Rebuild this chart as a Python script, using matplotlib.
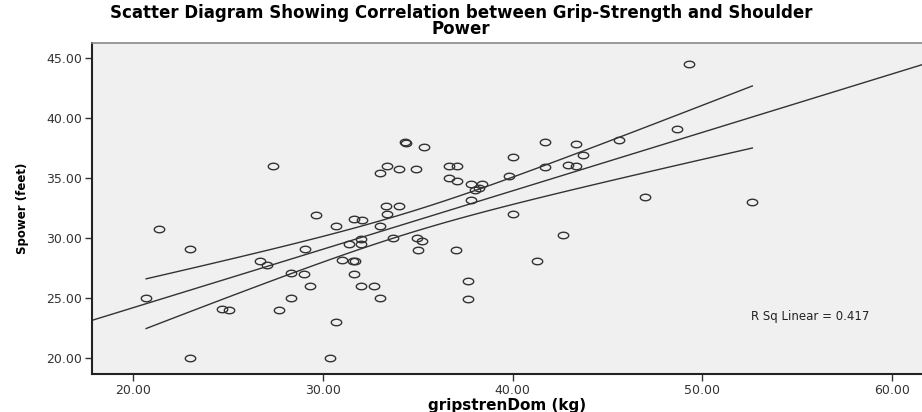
import numpy as np
import matplotlib
matplotlib.use("Agg")
from matplotlib import pyplot as plt
from matplotlib.path import Path

# grip strength (dominant hand, kg)
grip = [27.35, 29.65, 21.34, 23.0, 29.03, 26.68, 27.03, 28.31, 29.02, 29.33,
        20.67, 28.33, 24.68, 25.05, 27.66, 23.0, 34.3, 34.4, 35.34, 33.36,
        34.0, 34.9, 33.0, 33.34, 34.0, 31.63, 32.04, 33.36, 30.69, 33.0,
        32.0, 31.39, 32.0, 33.67, 34.94, 35.24, 34.99, 31.0, 31.6, 31.7,
        31.65, 32.0, 32.67, 33.0, 30.67, 30.35, 41.69, 40.0, 36.66, 37.05,
        36.66, 37.05, 37.79, 38.37, 38.0, 38.24, 39.79, 41.69, 37.8, 40.0,
        37.01, 41.3, 37.66, 37.66, 49.33, 48.65, 45.6, 43.34, 43.69, 42.9,
        43.37, 47.0, 52.65, 42.67]
# shoulder power (feet)
spower = [36.0, 31.92, 30.83, 29.14, 29.12, 28.14, 27.83, 27.16, 27.05, 26.05,
          25.05, 25.05, 24.13, 24.05, 24.05, 20.04, 38.0, 37.92, 37.63, 36.0,
          35.82, 35.82, 35.43, 32.73, 32.73, 31.64, 31.56, 32.03, 31.03, 31.03,
          29.95, 29.56, 29.53, 30.03, 30.03, 29.83, 29.06, 28.17, 28.11, 28.11,
          27.05, 26.05, 26.05, 25.05, 23.05, 20.07, 38.01, 36.82, 36.0, 36.0,
          35.0, 34.82, 34.54, 34.54, 34.06, 34.2, 35.23, 35.93, 33.23, 32.03,
          29.06, 28.14, 26.44, 24.94, 44.5, 39.13, 38.24, 37.9, 36.93, 36.13,
          36.01, 33.42, 33.04, 30.25]

x_ticks = [20, 30, 40, 50, 60]
y_ticks = [20, 25, 30, 35, 40, 45]
r_sq_text = "R Sq Linear = 0.417"
T_CRIT = 1.993  # t(0.975, df=72)

x = np.array(grip)
y = np.array(spower)
n = len(x)
slope, intercept = np.polyfit(x, y, 1)
resid = y - (intercept + slope * x)
s = np.sqrt(np.sum(resid ** 2) / (n - 2))
sxx = np.sum((x - x.mean()) ** 2)

fig = plt.figure(figsize=(9.22, 4.12), dpi=100)
ax = fig.add_axes([0.0995, 0.092, 0.9005, 0.804])
ax.set_facecolor('#f0f0f0')

# fit line across the whole axis
xlim = (17.8, 61.6)
xl = np.linspace(xlim[0], xlim[1], 50)
ax.plot(xl, intercept + slope * xl, color='#333333', lw=1.0, zorder=2)

# 95% CI of the mean, only over data range
xc = np.linspace(x.min(), x.max(), 100)
yc = intercept + slope * xc
half = T_CRIT * s * np.sqrt(1.0 / n + (xc - x.mean()) ** 2 / sxx)
ax.plot(xc, yc + half, color='#333333', lw=1.0, zorder=2)
ax.plot(xc, yc - half, color='#333333', lw=1.0, zorder=2)

# elliptical open markers
t = np.linspace(0, 2 * np.pi, 40)
ell = Path(np.column_stack([1.6 * np.cos(t), np.sin(t)]), closed=True)
ax.plot(x, y, linestyle='none', marker=ell, markersize=7.5,
        markerfacecolor='none', markeredgecolor='#333333', markeredgewidth=1.0, zorder=3)

ax.text(52.56, 23.46, r_sq_text, fontsize=8.5, family='DejaVu Sans',
        color='#222222', va='center', ha='left')

ax.set_xlim(xlim)
ax.set_ylim(18.7, 46.3)
ax.set_xticks(x_ticks)
ax.set_yticks(y_ticks)
ax.set_xticklabels(['%.2f' % v for v in x_ticks], family='DejaVu Sans', fontsize=9, color='#333333')
ax.set_yticklabels(['%.2f' % v for v in y_ticks], family='DejaVu Sans', fontsize=9, color='#333333')
ax.tick_params(direction='out', length=5, width=1, color='#333333', pad=2)

for side in ['left', 'bottom']:
    ax.spines[side].set_color('#222222')
    ax.spines[side].set_linewidth(1.5)
ax.spines['top'].set_color('#888888')
ax.spines['top'].set_linewidth(1.2)
ax.spines['right'].set_visible(False)

ax.set_xlabel('gripstrenDom (kg)', family='DejaVu Sans', fontweight='bold', fontsize=11, labelpad=1)
ax.set_ylabel('Spower (feet)', family='DejaVu Sans', fontweight='bold', fontsize=8.5, labelpad=12)

fig.suptitle('Scatter Diagram Showing Correlation between Grip-Strength and Shoulder\nPower',
             family='DejaVu Sans', fontweight='bold', fontsize=12, y=0.99, linespacing=0.85)

fig.savefig('out.png', dpi=100)
